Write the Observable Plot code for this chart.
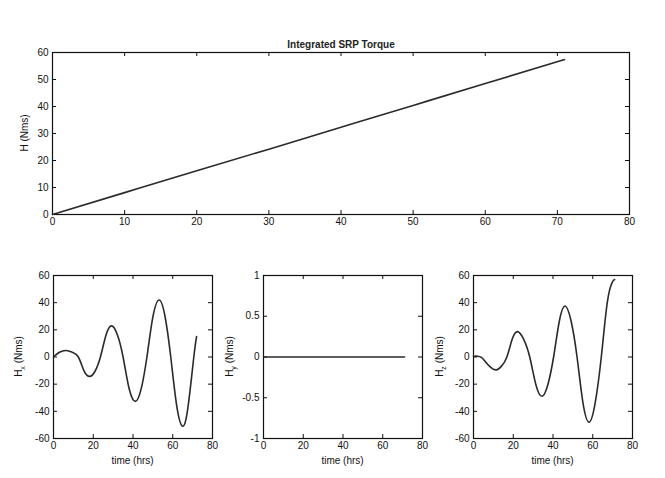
<!DOCTYPE html>
<html><head><meta charset="utf-8">
<script src="https://cdn.jsdelivr.net/npm/d3@7"></script>
<script src="https://cdn.jsdelivr.net/npm/@observablehq/plot@0.6"></script>
<style>
body{margin:0;background:#fff;width:665px;height:478px;position:relative;overflow:hidden;font-family:"Liberation Sans",Arial,sans-serif}
.panel{position:absolute}
.panel svg{background:transparent;overflow:visible}
</style></head><body>
<div id="p-top" class="panel" style="left:0;top:0"></div>
<div id="p-x" class="panel" style="left:0;top:240px"></div>
<div id="p-y" class="panel" style="left:222px;top:240px"></div>
<div id="p-z" class="panel" style="left:432px;top:240px"></div>
<script>
// ---- data ----
const titleText = "Integrated SRP Torque";
const xLabelText = "time (hrs)";

const topTime = [0, 10, 20, 30, 40, 50, 60, 71];
const topH = [0, 8.1, 16.2, 24.2, 32.3, 40.4, 48.5, 57.4];
const topXTicks = [0, 10, 20, 30, 40, 50, 60, 70, 80];
const topYTicks = [0, 10, 20, 30, 40, 50, 60];

const hxTime = [0, 3, 6.5, 9.5, 12.5, 15.3, 18.2, 20.9, 23.6, 26.4, 29.2, 32.1, 35, 38, 41.2, 44.1, 47, 50, 53.2, 56.1, 59, 62, 65, 67.7, 70.6, 72];
const hxValues = [0, 3.5, 4.8, 3.4, 0, -10, -14.3, -10.5, 0, 16, 22.9, 16.5, 0, -23, -32.7, -23.5, 0, 29.5, 42, 30, 0, -36, -51, -36.5, 0, 15];

const hyTime = [0, 71];
const hyValues = [0, 0];

const hzTime = [0, 2, 4, 6, 8.5, 11.4, 14.1, 16.8, 19.5, 22.2, 25.2, 28.3, 31.4, 34.5, 37.4, 40.3, 43.2, 46.1, 49.1, 52.1, 55.1, 58.2, 61.2, 64.3, 67.3, 69.8, 71];
const hzValues = [0.5, 0.6, -0.3, -3.5, -7.5, -9.5, -6.7, 0, 13.2, 18.7, 13.2, 0, -20.4, -28.9, -20.4, 0, 26.5, 37.5, 26.5, 0, -34, -48, -34, 0, 40, 55, 57];

const smallXTicks = [0, 20, 40, 60, 80];
const smallYTicks = [-60, -40, -20, 0, 20, 40, 60];
const hyYTicks = [-1, -0.5, 0, 0.5, 1];

// ---- helper ----
function panel(el, cfg) {
  const {width, height, ml, mr, mt, mb, xDomain, yDomain, xTicks, yTicks, times, values, title,
         yLabel, ySub, yLabelOffset, xLabel} = cfg;
  const fw = width - ml - mr, fh = height - mt - mb, ts = 4;
  const data = times.map((t, i) => ({t, v: values[i]}));
  const fmt = d => String(d);
  const marks = [
    Plot.frame({stroke: "#111", strokeWidth: 1.2}),
    Plot.tickX(xTicks, {x: d => d, insetTop: fh - ts, stroke: "#111"}),
    Plot.tickX(xTicks, {x: d => d, insetBottom: fh - ts, stroke: "#111"}),
    Plot.tickY(yTicks, {y: d => d, insetRight: fw - ts, stroke: "#111"}),
    Plot.tickY(yTicks, {y: d => d, insetLeft: fw - ts, stroke: "#111"}),
    Plot.axisX(xTicks, {tickSize: 0, tickPadding: 3, tickFormat: fmt, label: null, fill: "#111"}),
    Plot.axisY(yTicks, {tickSize: 0, tickPadding: 4, tickFormat: fmt, label: null, fill: "#111"}),
    Plot.line(data, {x: "t", y: "v", stroke: "#2a2a2a", strokeWidth: 1.6, curve: "natural"})
  ];
  if (title) marks.push(Plot.text([title], {frameAnchor: "top", dy: -12, fontSize: 10, fontWeight: "bold", fill: "#222"}));
  const chart = Plot.plot({
    width, height, marginLeft: ml, marginRight: mr, marginTop: mt, marginBottom: mb,
    x: {domain: xDomain, axis: null},
    y: {domain: yDomain, axis: null},
    style: {fontSize: "10px", fontFamily: "'Liberation Sans', Arial, sans-serif", background: "transparent"},
    marks
  });
  const svg = d3.select(chart);
  const yl = svg.append("text")
    .attr("transform", `translate(${ml - yLabelOffset},${mt + fh / 2}) rotate(-90)`)
    .attr("text-anchor", "middle")
    .attr("font-size", 10)
    .attr("fill", "#111");
  yl.append("tspan").text(yLabel);
  if (ySub) {
    yl.append("tspan").attr("dy", 3).attr("font-size", 7).text(ySub);
    yl.append("tspan").attr("dy", -3).text(" (Nms)");
  } else {
    yl.append("tspan").text(" (Nms)");
  }
  if (xLabel) {
    svg.append("text")
      .attr("x", ml + fw / 2).attr("y", mt + fh + 26)
      .attr("text-anchor", "middle").attr("font-size", 10).attr("fill", "#111")
      .text(xLabel);
  }
  document.getElementById(el).appendChild(chart);
}

panel("p-top", {width: 665, height: 240, ml: 52, mr: 36, mt: 52, mb: 26,
  xDomain: [0, 80], yDomain: [0, 60], xTicks: topXTicks, yTicks: topYTicks,
  times: topTime, values: topH, title: titleText, yLabel: "H", ySub: null, yLabelOffset: 24});

panel("p-x", {width: 225, height: 238, ml: 53, mr: 13, mt: 35, mb: 40,
  xDomain: [0, 80], yDomain: [-60, 60], xTicks: smallXTicks, yTicks: smallYTicks,
  times: hxTime, values: hxValues, yLabel: "H", ySub: "x", yLabelOffset: 31, xLabel: xLabelText});

panel("p-y", {width: 215, height: 238, ml: 41, mr: 15, mt: 35, mb: 40,
  xDomain: [0, 80], yDomain: [-1, 1], xTicks: smallXTicks, yTicks: hyYTicks,
  times: hyTime, values: hyValues, yLabel: "H", ySub: "y", yLabelOffset: 30, xLabel: xLabelText});

panel("p-z", {width: 233, height: 238, ml: 41, mr: 33, mt: 35, mb: 40,
  xDomain: [0, 80], yDomain: [-60, 60], xTicks: smallXTicks, yTicks: smallYTicks,
  times: hzTime, values: hzValues, yLabel: "H", ySub: "z", yLabelOffset: 30, xLabel: xLabelText});
</script>
</body></html>
